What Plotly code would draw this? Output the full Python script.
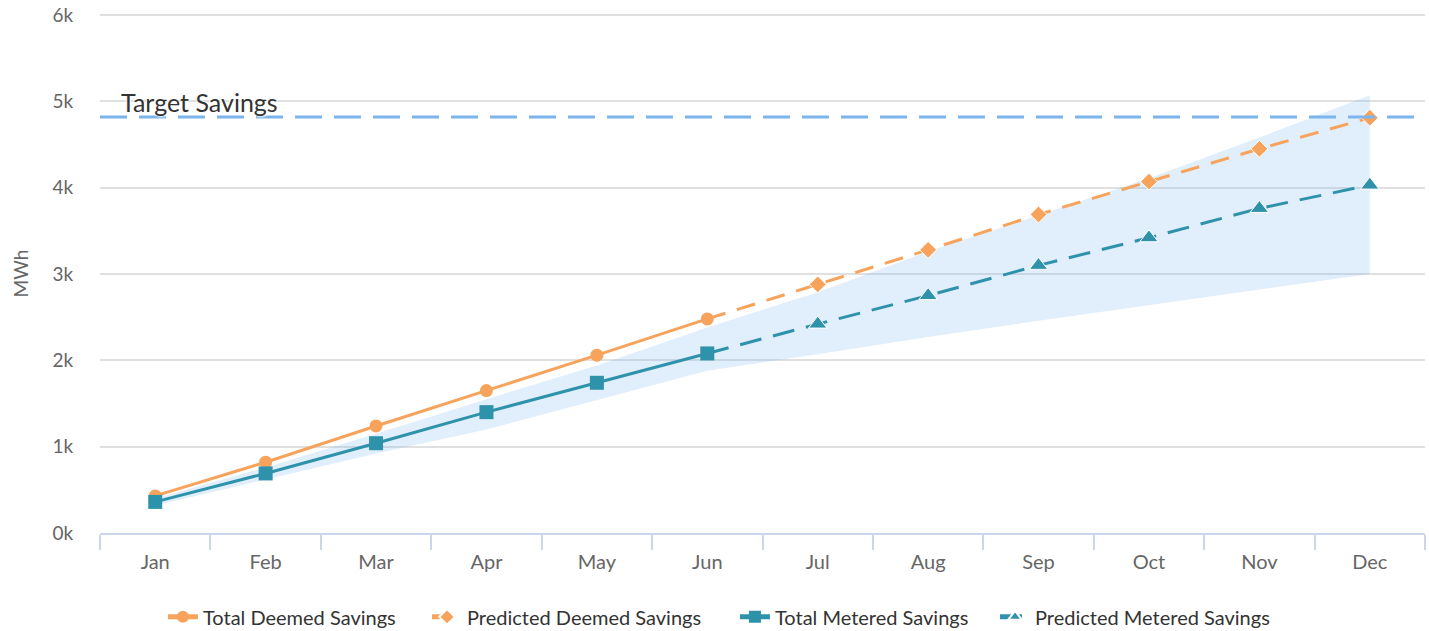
import plotly.graph_objects as go

months = ["Jan", "Feb", "Mar", "Apr", "May", "Jun", "Jul", "Aug", "Sep", "Oct", "Nov", "Dec"]
y_ticks = [0, 1000, 2000, 3000, 4000, 5000, 6000]
y_tick_labels = ["0k", "1k", "2k", "3k", "4k", "5k", "6k"]

total_deemed_months = months[:6]
total_deemed = [430, 820, 1240, 1650, 2060, 2480]

pred_deemed_months = months[5:]
pred_deemed = [2480, 2880, 3280, 3690, 4070, 4450, 4810]

total_metered_months = months[:6]
total_metered = [360, 690, 1040, 1400, 1740, 2080]

pred_metered_months = months[5:]
pred_metered = [2080, 2420, 2750, 3100, 3420, 3760, 4030]

band_lower = [320, 620, 920, 1200, 1540, 1880, 2070, 2270, 2460, 2640, 2820, 3000]
band_upper = [400, 760, 1150, 1550, 1940, 2380, 2790, 3260, 3680, 4110, 4580, 5070]

target_value = 4820
target_label = "Target Savings"

ORANGE = "#f7a35c"
TEAL = "#2f92ab"
BLUE = "#7cb5ec"
FONT = "Lato"

fig = go.Figure()

# uncertainty band
fig.add_trace(go.Scatter(x=months, y=band_lower, mode="lines", line=dict(width=0),
                         showlegend=False, hoverinfo="skip"))
fig.add_trace(go.Scatter(x=months, y=band_upper, mode="lines", line=dict(width=0),
                         fill="tonexty", fillcolor="rgba(124,181,236,0.23)",
                         showlegend=False, hoverinfo="skip"))

fig.add_trace(go.Scatter(x=pred_deemed_months, y=pred_deemed, mode="lines+markers",
                         name="Predicted Deemed Savings", legend="legend2",
                         line=dict(color=ORANGE, width=3, dash="19px,12px"),
                         marker=dict(symbol="diamond", size=[0] + [13] * 6, color=ORANGE,
                                     opacity=1, sizemode="diameter", sizeref=1)))
fig.add_trace(go.Scatter(x=pred_metered_months, y=pred_metered, mode="lines+markers",
                         name="Predicted Metered Savings", legend="legend4",
                         line=dict(color=TEAL, width=3, dash="22px,12px"),
                         marker=dict(symbol="triangle-up", size=[0] + [16] * 6, color=TEAL,
                                     opacity=1, sizemode="diameter", sizeref=1)))
fig.add_trace(go.Scatter(x=total_deemed_months, y=total_deemed, mode="lines+markers",
                         name="Total Deemed Savings", legend="legend",
                         line=dict(color=ORANGE, width=3),
                         marker=dict(symbol="circle", size=13, color=ORANGE)))
fig.add_trace(go.Scatter(x=total_metered_months, y=total_metered, mode="lines+markers",
                         name="Total Metered Savings", legend="legend3",
                         line=dict(color=TEAL, width=3),
                         marker=dict(symbol="square", size=14, color=TEAL)))

fig.add_shape(type="line", xref="paper", yref="y", x0=0, x1=1, y0=target_value, y1=target_value,
              line=dict(color=BLUE, width=3, dash="27px,12px"), layer="above")
fig.add_annotation(xref="paper", yref="y", x=0.014, y=target_value, text=target_label,
                   showarrow=False, xanchor="left", yanchor="middle", yshift=15,
                   font=dict(family=FONT, size=25, color="#333",
                             shadow="1px 1px 2px white, -1px -1px 2px white"))

legend_style = dict(orientation="h", y=-0.124, yanchor="top", xanchor="left",
                    font=dict(family=FONT, size=20, color="#333"),
                    itemsizing="constant", bgcolor="rgba(0,0,0,0)")

fig.update_layout(
    width=1429, height=631,
    margin=dict(l=100, r=4, t=14, b=98, autoexpand=False),
    paper_bgcolor="white", plot_bgcolor="white",
    font=dict(family=FONT, color="#666"),
    legend=dict(x=0.0475, **legend_style),
    legend2=dict(x=0.2468, **legend_style),
    legend3=dict(x=0.4792, **legend_style),
    legend4=dict(x=0.6755, **legend_style),
    showlegend=True,
)

fig.update_xaxes(type="category", categoryorder="array", categoryarray=months,
                 range=[-0.5, 11.5], tickson="boundaries", ticks="outside", ticklen=15,
                 tickcolor="#ccd6eb", tickwidth=1.5, showline=True, linecolor="#ccd6eb",
                 linewidth=1.5, showgrid=False, tickfont=dict(family=FONT, size=20, color="#666"),
                 ticklabelstandoff=10, automargin=False, fixedrange=True)
fig.update_yaxes(range=[0, 6012], tickvals=y_ticks, ticktext=y_tick_labels,
                 showgrid=True, gridcolor="#e0e0e0", gridwidth=1.5, zeroline=False,
                 ticks="outside", ticklen=22, tickcolor="rgba(0,0,0,0)",
                 tickfont=dict(family=FONT, size=19, color="#666"), automargin=False,
                 title=dict(text="MWh", font=dict(family=FONT, size=19, color="#666"), standoff=18))

# remove the browser's default 8px body margin so the figure fills the window exactly
fig.write_html("out.html", config={"displayModeBar": False},
               post_script="document.body.style.margin = '0';")
